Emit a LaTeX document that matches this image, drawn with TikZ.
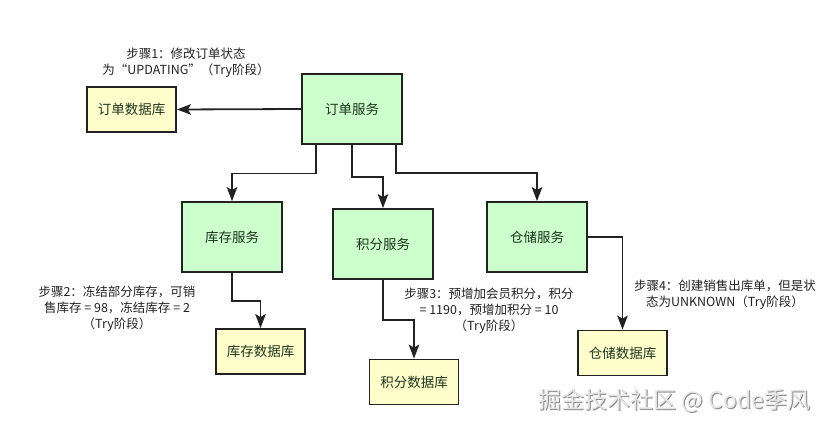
\documentclass[tikz,border=0pt]{standalone}
\usepackage{fontspec}
\setmainfont{Noto Sans CJK SC}
\usetikzlibrary{arrows.meta}
\definecolor{svcfill}{HTML}{CCFFCC}
\definecolor{dbfill}{HTML}{FFFFCC}
\definecolor{edge}{HTML}{222222}
\definecolor{lbl}{HTML}{1E361E}
\definecolor{txt}{HTML}{222222}
\definecolor{wmlight}{HTML}{E6E6E6}
\definecolor{wmdark}{HTML}{8A8A8A}
\tikzset{
  svc/.style={draw=edge, line width=1.8pt, fill=svcfill, minimum width=100pt, minimum height=70pt, inner sep=0pt, text=lbl, font=\fontsize{13.5}{16}\selectfont},
  dbbox/.style={draw=edge, line width=1.8pt, fill=dbfill, minimum width=89pt, minimum height=45pt, inner sep=0pt, text=lbl, font=\fontsize{13.5}{16}\selectfont},
  arr/.style={draw=edge, line width=1.8pt, -{Stealth[length=14pt,width=10.5pt,inset=3pt]}},
  note/.style={align=center, text=txt, inner sep=0pt, font=\fontsize{12.5}{16}\selectfont},
  wm/.style={inner sep=0pt, font=\fontsize{23}{26}\selectfont}
}
\begin{document}
\begin{tikzpicture}[x=1pt,y=-1pt]
\useasboundingbox (0,0) rectangle (838,430);
\node[svc] (os) at (352,109) {订单服务};
\node[dbbox] (odb) at (131.5,109.5) {订单数据库};
\node[svc] (inv) at (232,237) {库存服务};
\node[svc] (pts) at (383,244) {积分服务};
\node[svc] (wh) at (537,237) {仓储服务};
\node[dbbox] (invdb) at (260.5,351.5) {库存数据库};
\node[dbbox] (ptsdb) at (414,382) {积分数据库};
\node[dbbox] (whdb) at (622.5,353) {仓储数据库};

\draw[arr] (os.west) -- (odb.east);
\draw[arr] ([xshift=-36pt]os.south) -- ++(0,28.7) -| (inv.north);
\draw[arr] (os.south) -- ++(0,32) -| (pts.north);
\draw[arr] ([xshift=43.7pt]os.south) -- ++(0,28) -| (wh.north);
\draw[arr] (inv.south) -- ++(0,28) -| (invdb.north);
\draw[arr] (pts.south) -- ++(0,40) -| (ptsdb.north);
\draw[arr] (wh.east) -| (whdb.north);

\node[note] (n1) at (186,63) {步骤1：修改订单状态\\为“UPDATING”（Try阶段）};
\node[note] (n2) at (117,309) {步骤2：冻结部分库存，可销\\售库存 = 98，冻结库存 = 2\\（Try阶段）};
\node[note] (n3) at (489,311) {步骤3：预增加会员积分，积分\\= 1190，预增加积分 = 10\\（Try阶段）};
\node[note] (n4) at (725,295) {步骤4：创建销售出库单，但是状\\态为UNKNOWN（Try阶段）};

\node[wm, text=wmdark] (wms) at (675.5,401.5) {掘金技术社区 @ Code季风};
\node[wm, text=wmlight] (wmt) at (674.5,400.5) {掘金技术社区 @ Code季风};
\end{tikzpicture}
\end{document}
